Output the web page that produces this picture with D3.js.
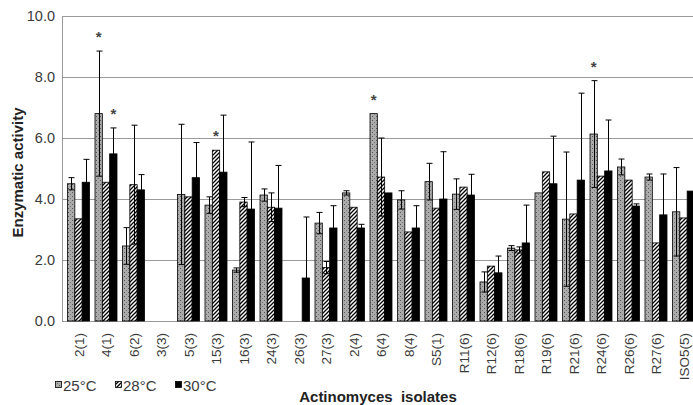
<!DOCTYPE html>
<html>
<head>
<meta charset="utf-8">
<script src="https://cdn.jsdelivr.net/npm/d3@7"></script>
<style>
  body { margin: 0; background: #fff; }
  svg { display: block; font-family: "Liberation Sans", Arial, sans-serif; }
</style>
</head>
<body>
<div class="chart"></div>
<script>
const categories = ["2(1)", "4(1)", "6(2)", "3(3)", "5(3)", "15(3)", "16(3)", "24(3)", "26(3)", "27(3)",
  "2(4)", "6(4)", "8(4)", "S5(1)", "R11(6)", "R12(6)", "R18(6)", "R19(6)", "R21(6)", "R24(6)",
  "R26(6)", "R27(6)", "ISO5(5)"];
const seriesNames = ["25°C", "28°C", "30°C"];

const val25 = [4.5, 6.8, 2.46, 0, 4.15, 3.8, 1.67, 4.13, 0, 3.21, 4.2, 6.8, 3.97, 4.57, 4.16, 1.28, 2.39, 4.2, 3.34, 6.13, 5.05, 4.72, 3.58];
const err25 = [0.2, 2.05, 0.6, 0, 2.3, 0.27, 0.07, 0.2, 0, 0.35, 0.07, 0, 0.3, 0.6, 0.5, 0.33, 0.08, 0, 2.2, 1.75, 0.26, 0.1, 1.45];
const val28 = [3.35, 4.55, 4.47, 0, 4.07, 5.6, 3.9, 3.73, 0, 1.75, 3.73, 4.72, 2.92, 3.7, 4.39, 1.8, 2.33, 4.89, 3.51, 4.75, 4.62, 2.56, 3.38];
const err28 = [0, 0, 1.95, 0, 0, 0, 0.15, 0.47, 0, 0.2, 0, 1.28, 0, 0, 0, 0, 0.1, 0, 0, 0, 0, 0, 0];
const val30 = [4.55, 5.48, 4.3, 0, 4.7, 4.88, 3.67, 3.7, 1.41, 3.05, 3.05, 4.2, 3.05, 4.0, 4.13, 1.58, 2.56, 4.5, 4.62, 4.92, 3.77, 3.48, 4.26];
const err30 = [0.75, 0.85, 0.5, 0, 1.15, 1.87, 2.2, 1.4, 2.0, 0.73, 0.12, 0, 0.73, 1.55, 0.68, 0.55, 1.24, 1.56, 2.85, 1.67, 0.07, 1.34, 0];

const yTicks = [0, 2, 4, 6, 8, 10];
// significance marks: [category, series]
const stars = [["4(1)", "25°C"], ["4(1)", "30°C"], ["15(3)", "28°C"], ["6(4)", "25°C"], ["R24(6)", "25°C"]];

const W = 693, H = 405;
const margin = { top: 16, left: 62, bottom: 84 };
const plotRight = 700;

const values = { "25°C": val25, "28°C": val28, "30°C": val30 };
const errors = { "25°C": err25, "28°C": err28, "30°C": err30 };
const fills = { "25°C": "url(#dots)", "28°C": "url(#hatch)", "30°C": "#000" };

const svg = d3.select(".chart").append("svg").attr("width", W).attr("height", H);

// patterns
const defs = svg.append("defs");
const dots = defs.append("pattern").attr("id", "dots").attr("patternUnits", "userSpaceOnUse")
  .attr("width", 4).attr("height", 4);
dots.append("rect").attr("width", 4).attr("height", 4).attr("fill", "#ababab");
dots.append("rect").attr("x", 0).attr("y", 0).attr("width", 1).attr("height", 1).attr("fill", "#555");
dots.append("rect").attr("x", 2).attr("y", 2).attr("width", 1).attr("height", 1).attr("fill", "#777");

const hatch = defs.append("pattern").attr("id", "hatch").attr("patternUnits", "userSpaceOnUse")
  .attr("width", 4).attr("height", 4);
hatch.append("rect").attr("width", 4).attr("height", 4).attr("fill", "#fff");
hatch.append("path").attr("d", "M-1,1 l2,-2 M0,4 l4,-4 M3,5 l2,-2")
  .attr("stroke", "#000").attr("stroke-width", 1.3);

// scales
const x = d3.scaleBand().domain(categories).range([margin.left, plotRight]).padding(0.2);
const xs = d3.scaleBand().domain(seriesNames).range([0, x.bandwidth()]);
const y = d3.scaleLinear().domain([0, 10]).range([H - margin.bottom, margin.top]);

// gridlines
svg.append("g").selectAll("line").data(yTicks).join("line")
  .attr("x1", margin.left).attr("x2", W)
  .attr("y1", (d) => y(d) + 0.5).attr("y2", (d) => y(d) + 0.5)
  .attr("stroke", "#9a9a9a").attr("stroke-width", 1);

// left axis line
svg.append("line").attr("x1", margin.left + 0.5).attr("x2", margin.left + 0.5)
  .attr("y1", y(10)).attr("y2", y(0)).attr("stroke", "#9a9a9a");

// y tick labels
svg.append("g").selectAll("text").data(yTicks).join("text")
  .attr("x", 55).attr("y", (d) => y(d) + 5)
  .attr("text-anchor", "end").attr("font-size", "14.5px").attr("fill", "#3a3a3a")
  .text((d) => d3.format(".1f")(d));

// bars
const rows = [];
categories.forEach((c, i) => {
  seriesNames.forEach((s) => {
    rows.push({ cat: c, ser: s, v: values[s][i], e: errors[s][i] });
  });
});
const drawn = rows.filter((d) => d.v > 0);

svg.append("g").selectAll("rect").data(drawn).join("rect")
  .attr("x", (d) => x(d.cat) + xs(d.ser))
  .attr("y", (d) => y(d.v))
  .attr("width", xs.bandwidth())
  .attr("height", (d) => y(0) - y(d.v))
  .attr("fill", (d) => fills[d.ser])
  .attr("stroke", "#000").attr("stroke-width", 0.8);

// error bars
const eb = svg.append("g").attr("stroke", "#000").attr("stroke-width", 1);
drawn.filter((d) => d.e > 0).forEach((d) => {
  const cx = Math.round(x(d.cat) + xs(d.ser) + xs.bandwidth() / 2) + 0.5;
  const yTop = y(d.v + d.e), yBot = y(Math.max(0, d.v - d.e));
  eb.append("line").attr("x1", cx).attr("x2", cx).attr("y1", yTop).attr("y2", yBot);
  eb.append("line").attr("x1", cx - 3).attr("x2", cx + 3).attr("y1", yTop).attr("y2", yTop);
  eb.append("line").attr("x1", cx - 3).attr("x2", cx + 3).attr("y1", yBot).attr("y2", yBot);
});

// asterisks
svg.append("g").selectAll("text").data(stars).join("text")
  .attr("x", (d) => x(d[0]) + xs(d[1]) + xs.bandwidth() / 2)
  .attr("y", (d) => {
    const i = categories.indexOf(d[0]);
    return y(values[d[1]][i] + errors[d[1]][i]) - 9;
  })
  .attr("text-anchor", "middle").attr("font-size", "15px").attr("font-weight", "700").attr("fill", "#444")
  .text("*");

// x tick labels
svg.append("g").selectAll("text").data(categories).join("text")
  .attr("transform", (d) => `translate(${x(d) + x.bandwidth() / 2 + 5},${y(0) + 12}) rotate(-90)`)
  .attr("text-anchor", "end").attr("font-size", "13.5px").attr("fill", "#3a3a3a")
  .text((d) => d);

// axis titles
svg.append("text")
  .attr("transform", `translate(23,${(y(10) + y(0)) / 2 + 4}) rotate(-90)`)
  .attr("text-anchor", "middle").attr("font-size", "15px").attr("font-weight", "700").attr("fill", "#222")
  .text("Enzymatic activity");

svg.append("text")
  .attr("x", 378).attr("y", 402)
  .attr("text-anchor", "middle").attr("font-size", "15px").attr("font-weight", "700").attr("fill", "#222")
  .style("white-space", "pre")
  .text("Actinomyces  isolates");

// legend
const legendX = [55, 115, 175];
const legend = svg.append("g").selectAll("g").data(seriesNames).join("g")
  .attr("transform", (d, i) => `translate(${legendX[i]},381)`);
legend.append("rect").attr("x", 0.5).attr("y", 0.5).attr("width", 6).attr("height", 6)
  .attr("fill", (d) => fills[d]).attr("stroke", "#000").attr("stroke-width", 0.8);
legend.append("text").attr("x", 8).attr("y", 9.5)
  .attr("font-size", "15px").attr("fill", "#3a3a3a")
  .text((d) => d);
</script>
</body>
</html>
